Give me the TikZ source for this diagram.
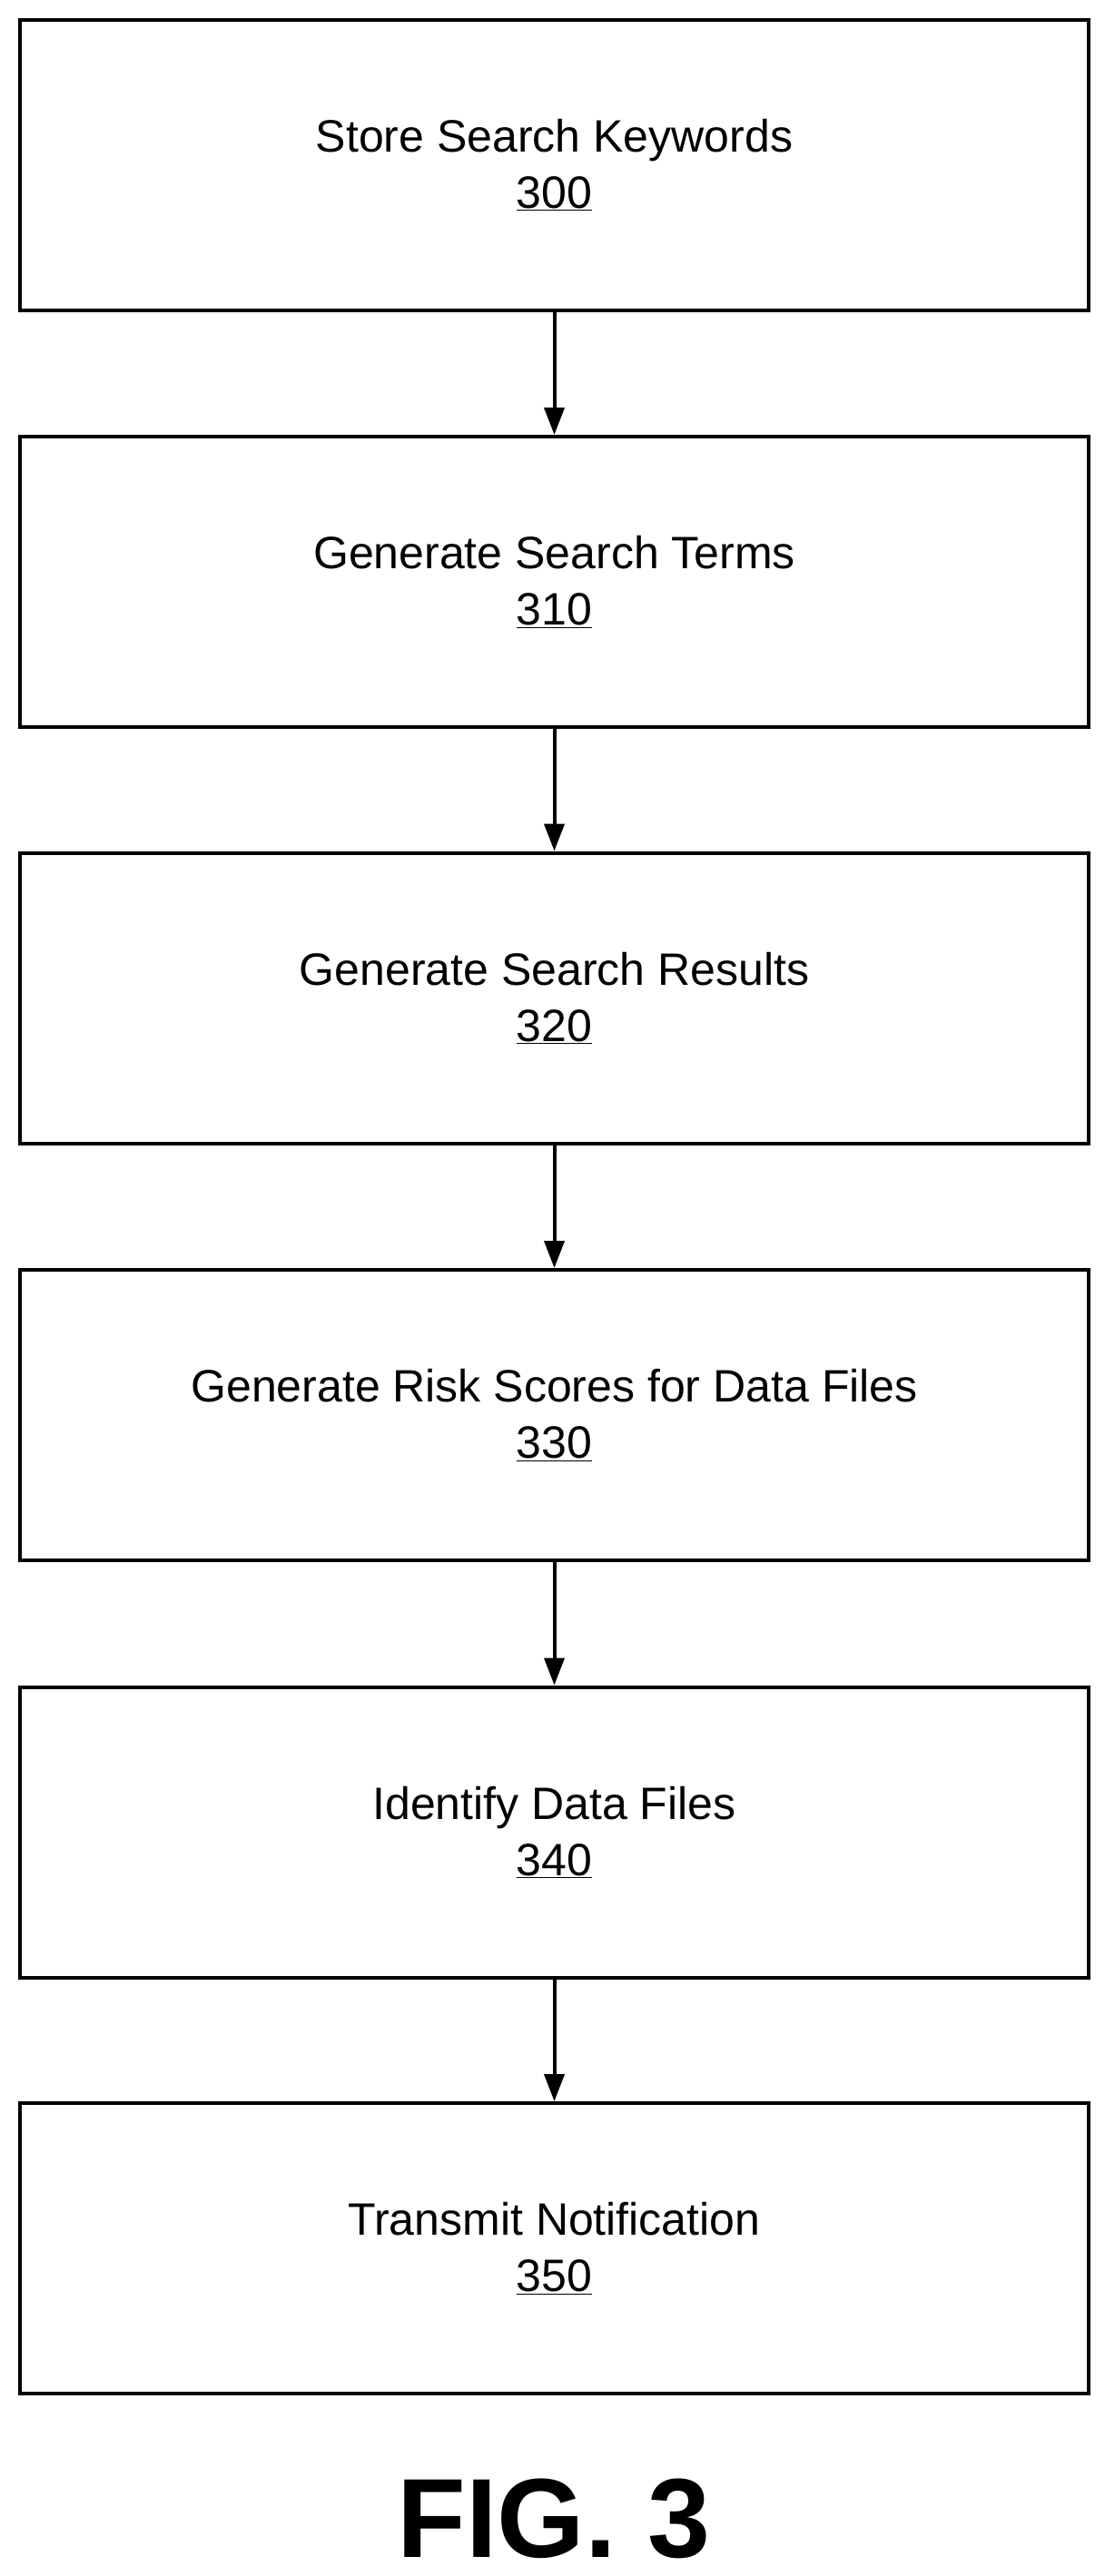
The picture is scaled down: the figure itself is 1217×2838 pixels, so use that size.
\documentclass[tikz,border=0pt]{standalone}
\usepackage{fontspec}
\setmainfont{Liberation Sans}
\usetikzlibrary{arrows.meta}
\begin{document}
\begin{tikzpicture}[x=1pt,y=-1pt,
  box/.style={draw,line width=4pt,minimum width=1177pt,minimum height=320pt,align=center,font=\fontsize{50}{62}\selectfont,inner sep=0pt},
  arr/.style={line width=4pt,-{Triangle[length=30pt,width=22pt]}}]
\useasboundingbox (0,0) rectangle (1217,2838);
\fill[white] (0,0) rectangle (1217,2838);
\node[box] (a) at (610.5,181.5) {Store Search Keywords\\\underline{300}};
\node[box] (b) at (610.5,641) {Generate Search Terms\\\underline{310}};
\node[box] (c) at (610.5,1099.5) {Generate Search Results\\\underline{320}};
\node[box] (d) at (610.5,1559) {Generate Risk Scores for Data Files\\\underline{330}};
\node[box] (e) at (610.5,2018.5) {Identify Data Files\\\underline{340}};
\node[box] (f) at (610.5,2477) {Transmit Notification\\\underline{350}};
\draw[arr] (a) -- (b);
\draw[arr] (b) -- (c);
\draw[arr] (c) -- (d);
\draw[arr] (d) -- (e);
\draw[arr] (e) -- (f);
\node[font=\fontsize{124}{124}\selectfont\bfseries] (fig) at (610,2775) {FIG. 3};
\end{tikzpicture}
\end{document}
